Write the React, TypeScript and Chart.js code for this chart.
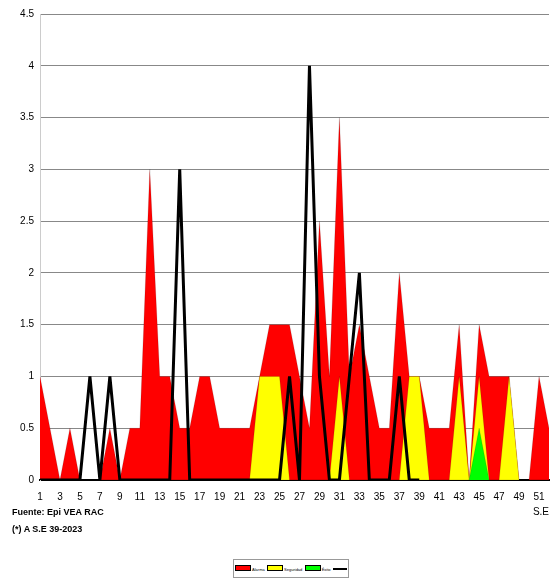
import { useEffect, useRef } from "react"
import { Chart, registerables } from "chart.js"

Chart.register(...registerables)

const weeks = Array.from({ length: 52 }, (_, i) => String(i + 1))
const alarma = [1, 0.5, 0, 0.5, 0, 0, 0, 0.5, 0, 0.5, 0.5, 3, 1, 1, 0.5, 0.5, 1, 1, 0.5, 0.5, 0.5, 0.5, 1, 1.5, 1.5, 1.5, 1, 0.5, 2.5, 1, 3.5, 1, 1.5, 1, 0.5, 0.5, 2, 1, 1, 0.5, 0.5, 0.5, 1.5, 0, 1.5, 1, 1, 1, 0, 0, 1, 0.5]
const seguridad = [0, 0, 0, 0, 0, 0, 0, 0, 0, 0, 0, 0, 0, 0, 0, 0, 0, 0, 0, 0, 0, 0, 1, 1, 1, 0, 0, 0, 0, 0, 1, 0, 0, 0, 0, 0, 0, 1, 1, 0, 0, 0, 1, 0, 1, 0, 0, 1, 0, 0, 0, 0]
const exito = [0, 0, 0, 0, 0, 0, 0, 0, 0, 0, 0, 0, 0, 0, 0, 0, 0, 0, 0, 0, 0, 0, 0, 0, 0, 0, 0, 0, 0, 0, 0, 0, 0, 0, 0, 0, 0, 0, 0, 0, 0, 0, 0, 0, 0.5, 0, 0, 0, 0, 0, 0, 0]
const actual = [0, 0, 0, 0, 0, 1, 0, 1, 0, 0, 0, 0, 0, 0, 3, 0, 0, 0, 0, 0, 0, 0, 0, 0, 0, 1, 0, 4, 1, 0, 0, 1, 2, 0, 0, 0, 1, 0, 0, null, null, null, null, null, null, null, null, null, null, null, null, null]

export default function App() {
  const chartRef = useRef<HTMLCanvasElement>(null)
  const chartInstance = useRef<Chart | null>(null)

  useEffect(() => {
    if (!chartRef.current) return
    const ctx = chartRef.current.getContext("2d")
    if (!ctx) return
    if (chartInstance.current) chartInstance.current.destroy()

    const area = (label: string, data: number[], color: string) => ({
      label,
      data,
      fill: "origin",
      backgroundColor: color,
      borderColor: "rgba(0,0,0,0.25)",
      borderWidth: 0.5,
      pointRadius: 0,
      tension: 0,
    })

    chartInstance.current = new Chart(ctx, {
      type: "line",
      data: {
        labels: weeks,
        datasets: [
          { label: "", data: actual, borderColor: "#000", borderWidth: 3, pointRadius: 0, fill: false, tension: 0, spanGaps: false, order: 0 },
          { ...area("Éxito", exito, "#00ff00"), order: 1 },
          { ...area("Seguridad", seguridad, "#ffff00"), order: 2 },
          { ...area("Alarma", alarma, "#ff0000"), order: 3 },
        ] as any,
      },
      options: {
        animation: false,
        responsive: false,
        layout: { padding: { top: 14, right: 6, left: 0, bottom: 0 } },
        plugins: { legend: { display: false }, tooltip: { enabled: false } },
        scales: {
          x: {
            grid: { display: false },
            border: { color: "#000", width: 2 },
            ticks: {
              autoSkip: false,
              maxRotation: 0,
              font: { family: "Liberation Sans", size: 10 },
              color: "#000",
              callback: (_v, i) => (i % 2 === 0 ? weeks[i] : ""),
            },
            title: { display: true, text: "S.E", align: "end", font: { family: "Liberation Sans", size: 10 }, color: "#000", padding: { top: 0 } },
          },
          y: {
            min: 0,
            max: 4.5,
            afterFit: (s: any) => { s.width = 40 },
            grid: { color: "#888", drawTicks: false },
            border: { color: "#ccc" },
            ticks: { stepSize: 0.5, padding: 6, font: { family: "Liberation Sans", size: 10 }, color: "#000", callback: (v) => String(v) },
          },
        },
      },
    })

    return () => {
      if (chartInstance.current) chartInstance.current.destroy()
    }
  }, [])

  return (
    <div style={{ position: "fixed", left: 0, top: 0, width: 555, height: 579, background: "#fff", fontFamily: "Liberation Sans" }}>
      <canvas ref={chartRef} width={555} height={522} style={{ position: "absolute", left: 0, top: 0 }}></canvas>
      <div style={{ position: "absolute", left: 12, top: 504, fontSize: 9, fontWeight: "bold", lineHeight: "17px" }}>
        <div>Fuente: Epi VEA RAC</div>
        <div>(*) A S.E 39-2023</div>
      </div>
      <div style={{ position: "absolute", left: 233, top: 559, width: 114, height: 17, border: "1px solid #999", display: "flex", alignItems: "center", justifyContent: "space-around", fontSize: 4 }}>
        <span><span style={{ display: "inline-block", width: 14, height: 4, background: "#f00", border: "1px solid #000" }}></span> Alarma</span>
        <span><span style={{ display: "inline-block", width: 14, height: 4, background: "#ff0", border: "1px solid #000" }}></span> Seguridad</span>
        <span><span style={{ display: "inline-block", width: 14, height: 4, background: "#0f0", border: "1px solid #000" }}></span> Éxito</span>
        <span><span style={{ display: "inline-block", width: 14, height: 2, background: "#000" }}></span></span>
      </div>
    </div>
  )
}
